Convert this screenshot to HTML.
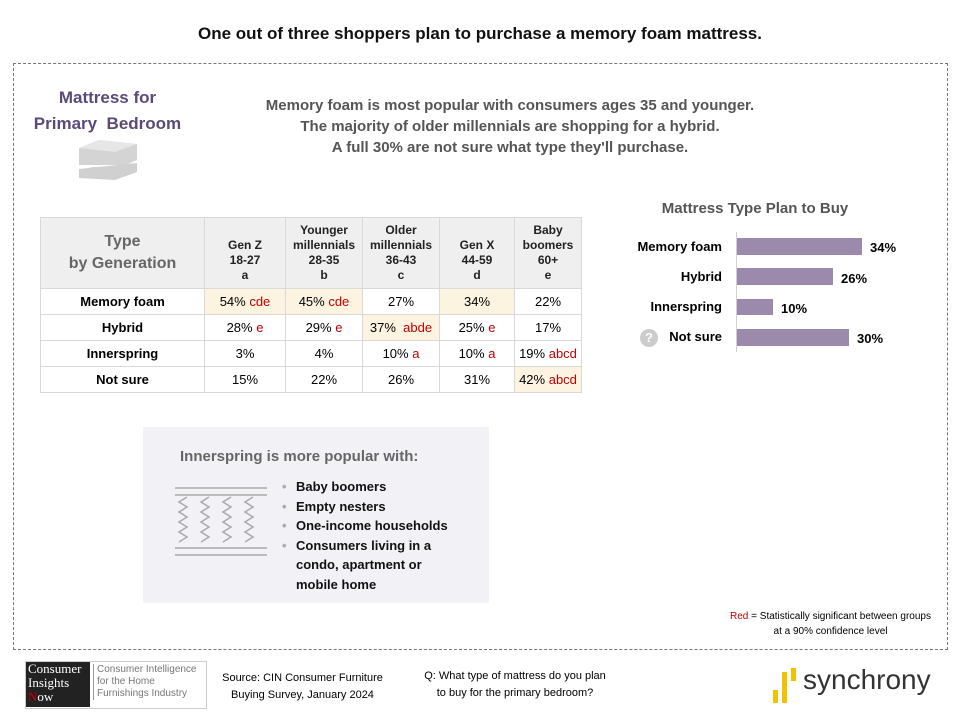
<!DOCTYPE html>
<html><head><style>
body{margin:0;width:960px;height:720px;background:#fff;font-family:"Liberation Sans",sans-serif;position:relative;overflow:hidden}
.a{position:absolute}
.c{text-align:center}
table{border-collapse:collapse;font-size:13px}
td{border:1px solid #d9d9d9;text-align:center;height:25px;padding:0}
.r{color:#c00000}
.h{background:#fdf3e1}
</style></head><body>
<div class="a c" style="left:0;top:24px;width:960px;font-size:17px;font-weight:bold;color:#111">One out of three shoppers plan to purchase a memory foam mattress.</div>
<div class="a" style="left:13px;top:63px;width:933px;height:585px;border:1px dashed #777"></div>
<div class="a c" style="left:20px;top:85px;width:175px;font-size:17px;font-weight:bold;color:#5b4a78;line-height:26px">Mattress for<br>Primary&nbsp; Bedroom</div>
<svg class="a" style="left:75px;top:138px" width="66" height="44"><polygon points="4,10 24,2 62,6 62,22 40,32 4,28" fill="#d4d4d4"/><polygon points="4,10 24,2 62,6 40,14" fill="#e6e6e6"/><rect x="4" y="27" width="58" height="2" fill="#fff"/><polygon points="4,31 62,25 62,34 40,42 4,40" fill="#d0d0d0"/></svg>
<div class="a c" style="left:200px;top:95px;width:620px;font-size:15px;font-weight:bold;color:#555;line-height:21px">Memory foam is most popular with consumers ages 35 and younger.<br>The majority of older millennials are shopping for a hybrid.<br>A full 30% are not sure what type they'll purchase.</div>
<table class="a" style="left:40px;top:217px;width:542px">
<tr style="background:#efefef;height:71px;font-weight:bold;font-size:12px;color:#222">
<td style="width:163px;font-size:16px;color:#666;line-height:22px">Type<br>by Generation</td>
<td style="width:80px;line-height:15px"><br>Gen Z<br>18-27<br>a</td>
<td style="width:76px;line-height:15px">Younger<br>millennials<br>28-35<br>b</td>
<td style="width:76px;line-height:15px">Older<br>millennials<br>36-43<br>c</td>
<td style="width:74px;line-height:15px"><br>Gen X<br>44-59<br>d</td>
<td style="line-height:15px">Baby<br>boomers<br>60+<br>e</td></tr>
<tr><td><b>Memory foam</b></td><td class="h">54% <span class="r">cde</span></td><td class="h">45% <span class="r">cde</span></td><td>27%</td><td class="h">34%</td><td>22%</td></tr>
<tr><td><b>Hybrid</b></td><td>28% <span class="r">e</span></td><td>29% <span class="r">e</span></td><td class="h">37%&nbsp; <span class="r">abde</span></td><td>25% <span class="r">e</span></td><td>17%</td></tr>
<tr><td><b>Innerspring</b></td><td>3%</td><td>4%</td><td>10% <span class="r">a</span></td><td>10% <span class="r">a</span></td><td>19% <span class="r">abcd</span></td></tr>
<tr><td><b>Not sure</b></td><td>15%</td><td>22%</td><td>26%</td><td>31%</td><td class="h">42% <span class="r">abcd</span></td></tr>
</table>
<div class="a c" style="left:610px;top:200px;width:290px;font-size:15px;font-weight:bold;color:#555">Mattress Type Plan to Buy</div>
<div class="a" style="left:736px;top:232px;width:1px;height:120px;background:#d0d0d0"></div>
<div class="a" style="left:600px;top:238px;width:122px;text-align:right;font-size:13px;font-weight:bold;line-height:18px">Memory foam<br><span style="display:block;margin-top:12px">Hybrid</span><span style="display:block;margin-top:12px">Innerspring</span><span style="display:block;margin-top:12px">Not sure</span></div>
<div class="a c" style="left:640px;top:329px;width:18px;height:18px;border-radius:50%;background:#ccc;color:#fff;font-size:13px;font-weight:bold;line-height:18px">?</div>
<div class="a" style="left:737px;top:238px;width:125px;height:17px;background:#9b8aac"></div>
<div class="a" style="left:737px;top:268px;width:96px;height:17px;background:#9b8aac"></div>
<div class="a" style="left:737px;top:299px;width:36px;height:16px;background:#9b8aac"></div>
<div class="a" style="left:737px;top:329px;width:112px;height:17px;background:#9b8aac"></div>
<div class="a" style="font-size:13px;font-weight:bold;left:870px;top:240px">34%</div>
<div class="a" style="font-size:13px;font-weight:bold;left:841px;top:271px">26%</div>
<div class="a" style="font-size:13px;font-weight:bold;left:781px;top:301px">10%</div>
<div class="a" style="font-size:13px;font-weight:bold;left:857px;top:331px">30%</div>
<div class="a" style="left:143px;top:427px;width:346px;height:176px;background:#f2f1f5"></div>
<div class="a" style="left:180px;top:448px;font-size:15px;font-weight:bold;color:#666">Innerspring is more popular with:</div>
<svg class="a" style="left:175px;top:487px" width="93" height="70" stroke="#aaa" fill="none" stroke-width="1.5"><line x1="0" y1="1" x2="92" y2="1"/><line x1="0" y1="8" x2="92" y2="8"/><line x1="0" y1="61" x2="92" y2="61"/><line x1="0" y1="68" x2="92" y2="68"/>
<path d="M12 10 l-8 5 l8 5 l-8 5 l8 5 l-8 5 l8 5 l-8 5 l8 5 l-8 5"/><path d="M34 10 l-8 5 l8 5 l-8 5 l8 5 l-8 5 l8 5 l-8 5 l8 5 l-8 5"/><path d="M56 10 l-8 5 l8 5 l-8 5 l8 5 l-8 5 l8 5 l-8 5 l8 5 l-8 5"/><path d="M78 10 l-8 5 l8 5 l-8 5 l8 5 l-8 5 l8 5 l-8 5 l8 5 l-8 5"/></svg>
<div class="a" style="left:282px;top:477px;font-size:13px;font-weight:bold;line-height:19.5px;color:#111">
<div><span style="color:#aaa;display:inline-block;width:14px">•</span>Baby boomers</div>
<div><span style="color:#aaa;display:inline-block;width:14px">•</span>Empty nesters</div>
<div><span style="color:#aaa;display:inline-block;width:14px">•</span>One-income households</div>
<div><span style="color:#aaa;display:inline-block;width:14px">•</span>Consumers living in a</div>
<div style="padding-left:14px">condo, apartment or<br>mobile home</div></div>
<div class="a c" style="left:728px;top:609px;width:205px;font-size:10px;line-height:15px"><span class="r">Red</span> = Statistically significant between groups at a 90% confidence level</div>
<div class="a" style="left:25px;top:661px;width:180px;height:46px;border:1px solid #ccc;background:#fff"></div>
<div class="a" style="left:26px;top:662px;width:62px;height:45px;background:#222;color:#fff;font-family:'Liberation Serif',serif;font-size:13px;line-height:14px;padding-left:2px">Consumer<br>Insights<br><span style="color:#c00">N</span>ow</div>
<div class="a" style="left:93px;top:664px;font-size:10px;color:#777;line-height:12px;border-left:1px solid #999;padding-left:3px">Consumer Intelligence<br>for the Home<br>Furnishings Industry</div>
<div class="a c" style="left:205px;top:670px;width:195px;font-size:11px;line-height:17px">Source: CIN Consumer Furniture<br>Buying Survey, January 2024</div>
<div class="a c" style="left:410px;top:668px;width:210px;font-size:11px;line-height:17px">Q: What type of mattress do you plan<br>to buy for the primary bedroom?</div>
<div class="a" style="left:773px;top:690px;width:5px;height:13px;background:#f2c200"></div>
<div class="a" style="left:782px;top:672px;width:5px;height:31px;background:#f2c200"></div>
<div class="a" style="left:791px;top:668px;width:5px;height:13px;background:#f2c200"></div>
<div class="a" style="left:803px;top:664px;font-size:28px;color:#333">synchrony</div>
</body></html>
